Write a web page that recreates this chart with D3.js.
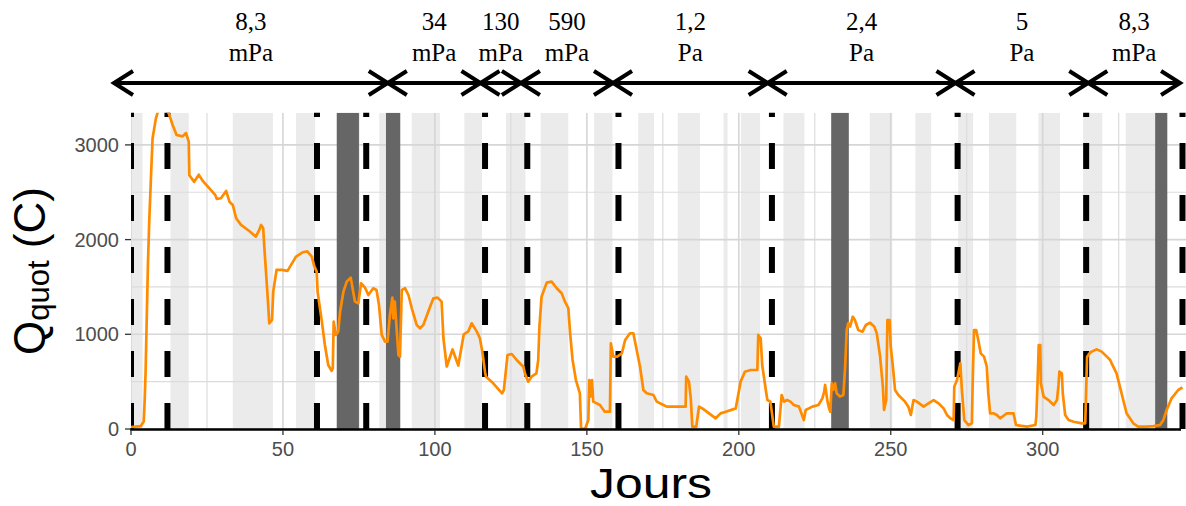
<!DOCTYPE html>
<html><head><meta charset="utf-8">
<script src="https://cdn.jsdelivr.net/npm/d3@7"></script>
<style>body{margin:0;background:#fff}svg{display:block}</style>
</head><body><svg id="c" width="1186" height="506"></svg>
<script>
// ---- data ----
const days = [0,3.2,4.2,4.5,4.8,5.2,5.6,6.0,6.5,7.1,8.2,9.3,11.0,12.4,13.7,15.0,17.0,18.1,19.0,19.2,20.8,22.3,23.6,25.8,27.75,28.2,29.6,31.3,32.4,33.5,34.6,36.2,38.9,41.1,42.2,42.8,43.5,43.9,45.0,45.5,46.4,46.8,47.9,49.7,51.5,54.3,56.5,58.0,59.5,60.3,61.1,61.4,62.8,63.8,64.9,66.0,66.4,66.7,67.4,68.2,68.8,69.9,71.0,72.3,73.7,74.8,75.7,77.0,78.1,79.7,80.8,81.6,82.5,83.6,84.4,85.2,86.0,86.3,86.8,88.0,88.5,89.1,90.2,91.3,92.4,94.0,95.1,96.2,97.8,99.5,100.9,102.2,102.8,103.9,105.8,107.7,109.5,111.0,112.1,113.8,114.8,115.6,116.5,116.8,119.2,122.1,122.7,123.9,125.3,126.9,129.1,129.6,130.7,131.8,133.4,134.0,134.4,135.1,136.8,138.4,140.1,141.7,142.8,143.9,144.5,145.3,146.4,147.7,148.1,149.4,150.5,150.8,151.2,151.7,152.1,154.3,155.9,157.6,157.9,158.7,160.0,161.5,162.6,164.2,165.3,166.4,167.5,168.6,169.7,171.9,173.0,175.2,176.3,182.5,182.7,183.6,184.2,184.7,186.0,186.9,188.0,190.2,192.4,194.0,195.7,199.0,199.8,200.6,202.0,203.9,206.1,206.4,207.2,207.7,208.8,209.4,210.4,211.5,213.2,214.1,214.9,215.9,217.0,218.1,219.8,221.4,222.0,224.2,226.2,227.5,228.1,228.4,229.2,229.7,230.1,230.6,231.1,231.7,232.2,233.3,234.4,235.0,235.5,236.0,236.6,237.5,238.2,239.3,240.7,241.8,243.2,244.6,245.4,246.5,247.4,247.8,248.5,248.9,249.6,250.0,250.7,251.4,252.5,254.7,255.8,256.6,257.5,258.6,260.8,262.4,264.1,265.7,267.4,268.5,269.6,270.7,270.9,271.8,272.9,273.4,274.2,275.6,276.7,277.0,277.4,278.1,278.8,279.6,280.7,281.6,282.1,282.7,283.8,284.9,286.0,288.2,290.4,291.2,294.8,297.6,297.9,298.3,298.7,299.2,299.4,300.3,301.9,303.6,304.7,305.2,305.5,306.3,306.6,307.4,308.5,310.2,312.9,314.0,314.6,315.4,316.1,317.8,319.4,321.1,322.2,322.7,324.3,325.4,326.5,327.6,329.8,331.4,334.2,336.4,338.6,339.7,340.8,342.4,344.6,346.0];
const qquot = [20,30,80,300,600,1200,1770,2190,2600,3070,3280,3400,3400,3335,3210,3105,3090,3125,3035,2680,2610,2685,2620,2540,2470,2430,2437,2514,2400,2366,2225,2155,2091,2031,2102,2155,2120,1908,1380,1116,1151,1451,1680,1680,1670,1820,1866,1875,1820,1720,1662,1451,1134,887,676,615,640,1134,993,1028,1239,1451,1556,1598,1345,1327,1539,1493,1415,1486,1468,1310,993,922,922,1204,1387,1169,1345,782,764,1468,1486,1415,1275,1099,1063,1099,1239,1380,1387,1345,958,660,840,670,1000,1030,1116,1028,958,817,600,553,482,377,412,782,792,729,658,588,500,553,588,729,1081,1398,1546,1556,1486,1433,1345,1275,1010,729,517,377,7,0,95,517,342,517,289,254,183,183,905,764,764,799,940,1011,1011,835,658,412,377,359,289,254,236,236,553,500,324,25,25,236,218,165,113,165,183,218,359,500,605,623,623,993,958,676,430,306,289,25,25,359,289,306,289,254,236,95,201,236,254,324,394,465,289,218,183,482,412,482,377,342,359,658,1045,1116,1081,1186,1151,1045,1028,1098,1122,1081,1010,764,447,201,306,1151,1151,870,658,412,359,289,236,148,306,289,236,271,306,271,218,148,113,95,447,517,693,412,95,42,60,553,1045,1045,940,799,764,658,377,166,166,148,113,166,166,42,25,42,130,482,887,887,482,342,306,254,306,465,605,588,377,148,95,77,60,60,760,799,817,841,817,764,729,693,588,447,306,166,60,25,25,31,42,95,201,324,412,440];

const lightStart = [0,13,33.5,54.3,81.7,92.4,109.7,123.4,134.8,152.4,166.9,179.9,195,200.7,214.7,243.1,258.1,272.2,282.3,298.6,313.3,327.3];
const lightEnd   = [3.8,19,46.7,60.6,83.9,101.7,115.5,129.8,143.9,158.4,172.1,187.2,196.3,207,221.6,250.5,263.3,277.1,291.3,305.7,319.6,337];
const darkStart = [67.7,83.9,230.4,337];
const darkEnd   = [75,88.6,236.2,341];
const changeDays = [0,12,61.2,77.4,116.5,130.4,160.4,210.9,272,314.3,346];

const xTicks = [0,50,100,150,200,250,300];
const xMinor = [25,75,125,175,225,275,325];
const yTicks = [0,1000,2000,3000];
const yMinor = [500,1500,2500];

const segBounds = [-5.6,84.5,115,128.3,158.6,209.5,271.3,315,345.2];
const segValue = ["8,3","34","130","590","1,2","2,4","5","8,3"];
const segUnit  = ["mPa","mPa","mPa","mPa","Pa","Pa","Pa","mPa"];

// ---- scales ----
const x = d3.scaleLinear().domain([0,346]).range([131,1182.5]);
const y = d3.scaleLinear().domain([0,3340]).range([429,112.7]);
const svg = d3.select("#c");
const pTop = y(3340), pBot = y(0), pL = x(0);

svg.append("defs").append("clipPath").attr("id","clip")
  .append("rect").attr("x",pL).attr("y",pTop).attr("width",1186-pL).attr("height",pBot-pTop);
svg.append("defs").append("clipPath").attr("id","clipLine")
  .append("rect").attr("x",pL-2).attr("y",pTop).attr("width",1186-pL).attr("height",pBot-pTop+3);

const panel = svg.append("g").attr("clip-path","url(#clip)");

// light bands
panel.selectAll("rect.light").data(lightStart).join("rect").attr("class","light")
  .attr("x",(d)=>x(d)).attr("width",(d,i)=>x(lightEnd[i])-x(d))
  .attr("y",pTop).attr("height",pBot-pTop).attr("fill","#ebebeb");

// grid
panel.selectAll("line.gxm").data(xMinor).join("line")
  .attr("x1",d=>x(d)).attr("x2",d=>x(d)).attr("y1",pTop).attr("y2",pBot)
  .attr("stroke","#dcdcdc").attr("stroke-width",1.2);
panel.selectAll("line.gym").data(yMinor).join("line")
  .attr("y1",d=>y(d)).attr("y2",d=>y(d)).attr("x1",pL).attr("x2",1186)
  .attr("stroke","#dcdcdc").attr("stroke-width",1.2);
panel.selectAll("line.gx").data(xTicks).join("line")
  .attr("x1",d=>x(d)).attr("x2",d=>x(d)).attr("y1",pTop).attr("y2",pBot)
  .attr("stroke","#d6d6d6").attr("stroke-width",1.6);
panel.selectAll("line.gy").data(yTicks).join("line")
  .attr("y1",d=>y(d)).attr("y2",d=>y(d)).attr("x1",pL).attr("x2",1186)
  .attr("stroke","#d6d6d6").attr("stroke-width",1.6);

// dark bands
panel.selectAll("rect.dark").data(darkStart).join("rect").attr("class","dark")
  .attr("x",(d)=>x(d)).attr("width",(d,i)=>x(darkEnd[i])-x(d))
  .attr("y",pTop).attr("height",pBot-pTop).attr("fill","#666666");

// dashed change lines
panel.selectAll("line.chg").data(changeDays).join("line")
  .attr("x1",d=>x(d)).attr("x2",d=>x(d)).attr("y1",pBot).attr("y2",pTop-2)
  .attr("stroke","#000").attr("stroke-width",6).attr("stroke-dasharray","26,26");

// series line
svg.append("path").attr("clip-path","url(#clipLine)")
  .datum(days.map((d,i)=>[d,qquot[i]]))
  .attr("d", d3.line().x(d=>x(d[0])).y(d=>y(d[1])))
  .attr("fill","none").attr("stroke","#ff8c00").attr("stroke-width",2.7)
  .attr("stroke-linejoin","round");

// x axis
svg.append("line").attr("x1",pL-1).attr("x2",1181).attr("y1",pBot+0.5).attr("y2",pBot+0.5)
  .attr("stroke","#000").attr("stroke-width",2.3);
svg.selectAll("line.xt").data(xTicks).join("line")
  .attr("x1",d=>x(d)).attr("x2",d=>x(d)).attr("y1",pBot+1).attr("y2",pBot+6)
  .attr("stroke","#333").attr("stroke-width",1.3);
svg.selectAll("text.xl").data(xTicks).join("text")
  .attr("x",d=>x(d)).attr("y",456).attr("text-anchor","middle")
  .attr("font-family","Liberation Sans, Arial, sans-serif").attr("font-size",20)
  .attr("fill","#4d4d4d").text(d=>d);
// y ticks
svg.selectAll("line.yt").data(yTicks).join("line")
  .attr("x1",pL-6).attr("x2",pL).attr("y1",d=>y(d)).attr("y2",d=>y(d))
  .attr("stroke","#333").attr("stroke-width",1.3);
svg.selectAll("text.yl").data(yTicks).join("text")
  .attr("x",119).attr("y",d=>y(d)+7).attr("text-anchor","end")
  .attr("font-family","Liberation Sans, Arial, sans-serif").attr("font-size",20)
  .attr("fill","#4d4d4d").text(d=>d);

// axis titles
svg.append("text").attr("x",651).attr("y",498).attr("text-anchor","middle")
  .attr("font-family","Liberation Sans, Arial, sans-serif").attr("font-size",42)
  .attr("textLength",122).attr("lengthAdjust","spacingAndGlyphs")
  .attr("fill","#000").text("Jours");
const yt = svg.append("text").attr("transform","translate(45,271) rotate(-90)")
  .attr("text-anchor","middle").attr("font-family","Liberation Sans, Arial, sans-serif")
  .attr("font-size",44).attr("fill","#000");
yt.append("tspan").text("Q");
yt.append("tspan").attr("font-size",31).attr("dy",4).text("quot");
yt.append("tspan").attr("dy",-4).text(" (C)");

// top pressure arrows
const ay = 83, hx = 19, hy = 12;
const ann = svg.append("g").attr("stroke","#000").attr("stroke-width",4).attr("fill","none");
segValue.forEach((v,i)=>{
  const a = x(segBounds[i]), b = x(segBounds[i+1]);
  ann.append("line").attr("x1",a).attr("x2",b).attr("y1",ay).attr("y2",ay);
  ann.append("polyline").attr("points",`${a+hx},${ay-hy} ${a},${ay} ${a+hx},${ay+hy}`);
  ann.append("polyline").attr("points",`${b-hx},${ay-hy} ${b},${ay} ${b-hx},${ay+hy}`);
  const cx = (a+b)/2;
  svg.append("text").attr("x",cx).attr("y",30).attr("text-anchor","middle")
    .attr("font-family","Liberation Serif, Times New Roman, serif").attr("font-size",25).text(v);
  svg.append("text").attr("x",cx).attr("y",61).attr("text-anchor","middle")
    .attr("font-family","Liberation Serif, Times New Roman, serif").attr("font-size",25).text(segUnit[i]);
});
</script></body></html>
